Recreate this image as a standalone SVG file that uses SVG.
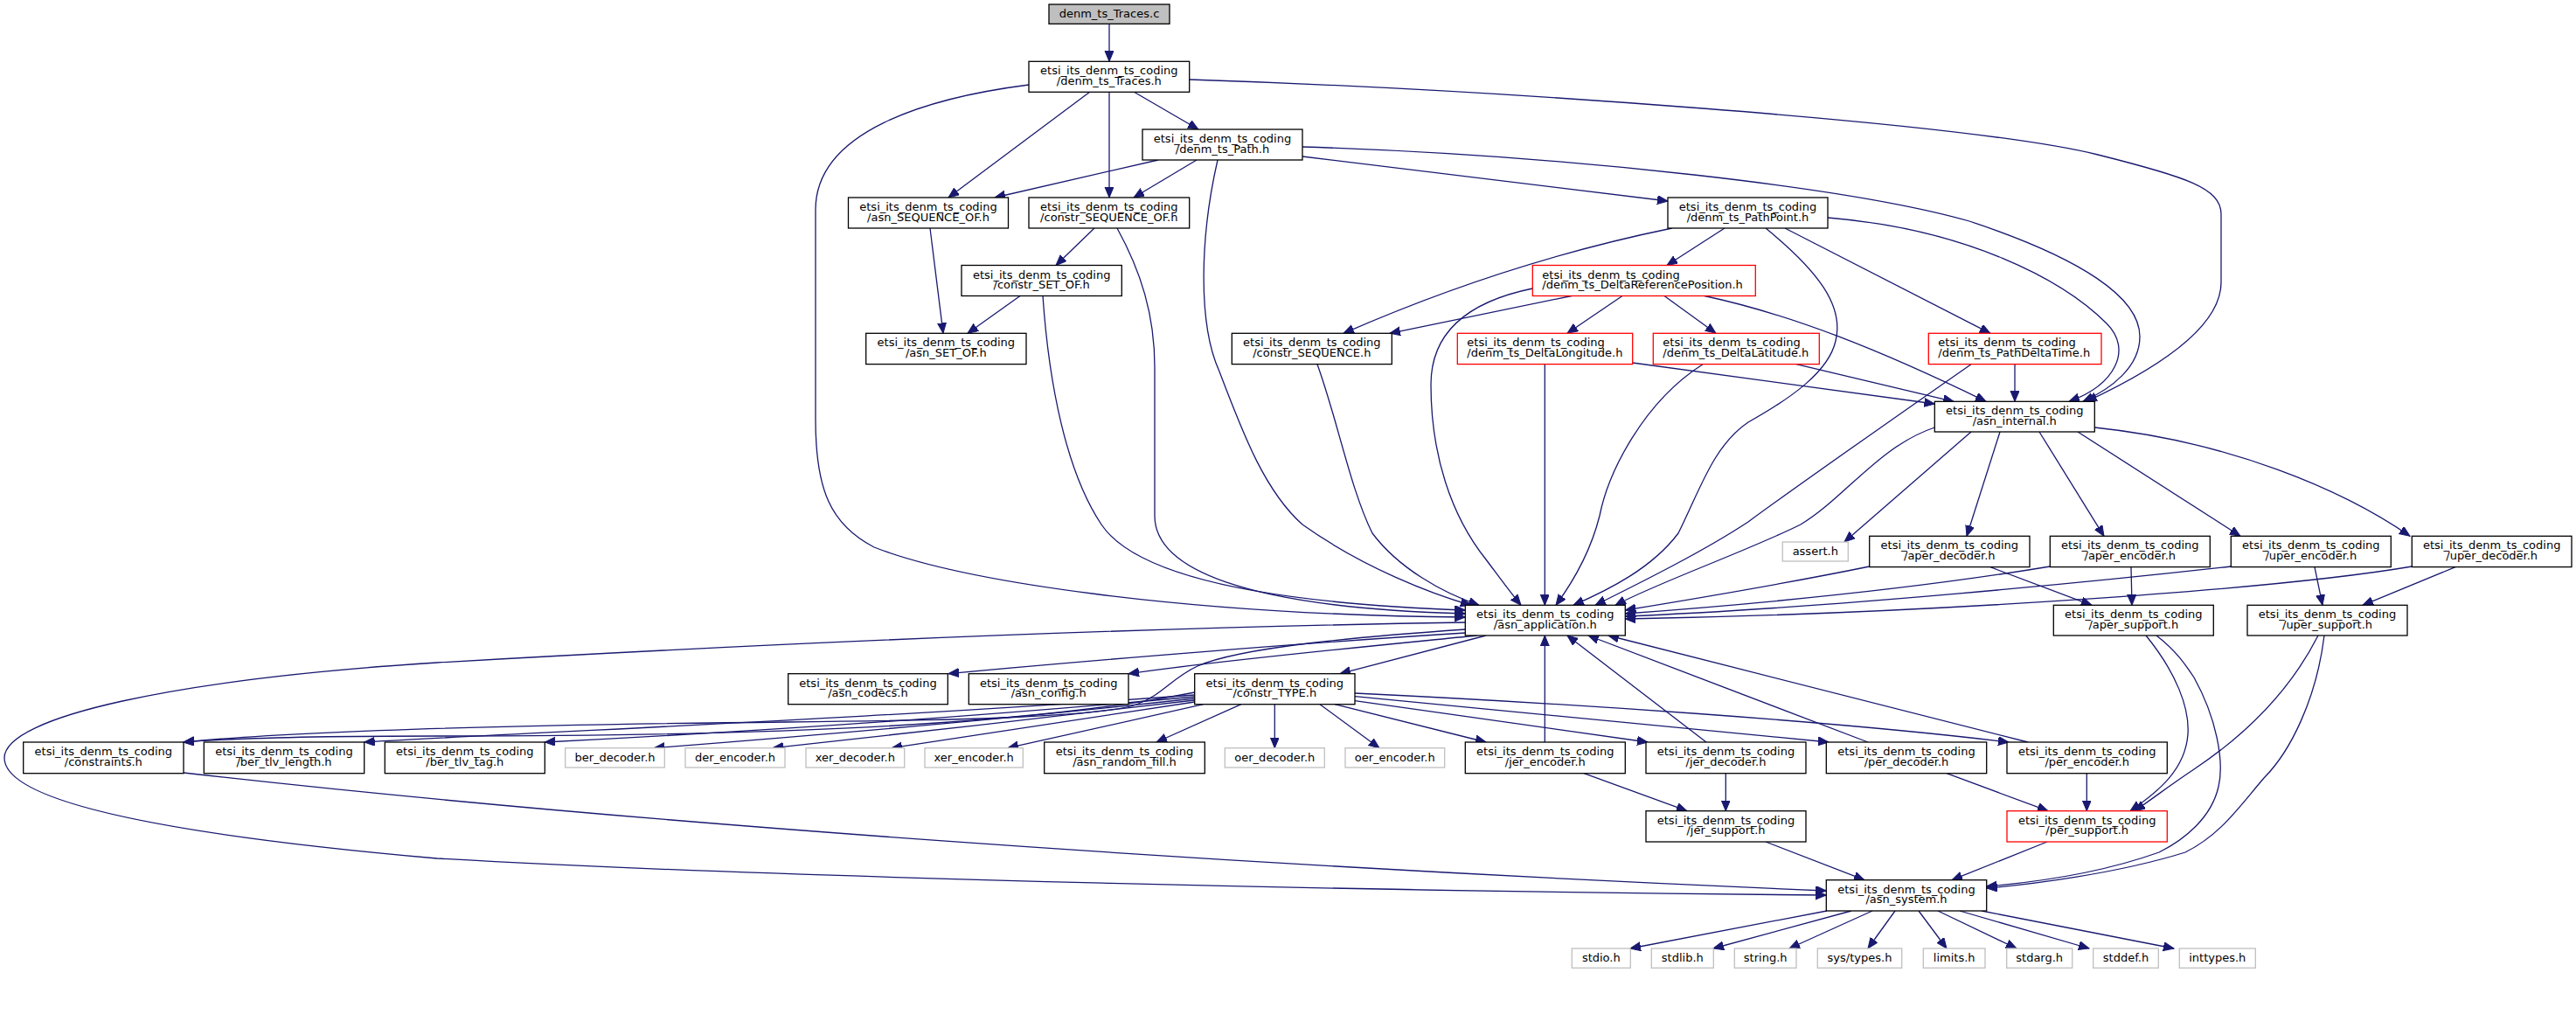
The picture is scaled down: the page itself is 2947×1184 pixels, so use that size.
<svg xmlns="http://www.w3.org/2000/svg" width="2947" height="1184" viewBox="0 0 2947 1184">
<defs>
<style>
.n rect{fill:#fff;stroke:#000;stroke-width:1.3}
.n.r rect{stroke:#ff0000}
.n.g rect{stroke:#bfbfbf}
.n.s rect{fill:#bfbfbf}
text{font-family:"DejaVu Sans","Liberation Sans",sans-serif;font-size:13px;fill:#000}
.c{text-anchor:middle}
.e path{fill:none;stroke:#191970;stroke-width:1.3;marker-end:url(#a)}
</style>
<marker id="a" markerWidth="13" markerHeight="12" refX="12" refY="5" orient="auto" markerUnits="userSpaceOnUse"><path d="M0,0 L12,5 L0,10 z" fill="#191970" stroke="#191970" stroke-width="1"/></marker>
</defs>
<rect width="2947" height="1184" fill="#fff"/>
<g id="edges" class="e">
<path d="M1269,27.3 L1269,70.3"/>
<path d="M1247,105 L1085,226"/>
<path d="M1269,105 L1269,226"/>
<path d="M1297,105 L1371,148"/>
<path d="M1177,97 C1060,112 933,150 933,240 L933,480 C933,560 950,600 1000,626 C1100,665 1350,703 1676.3,706"/>
<path d="M1360.7,91 C1700,102 2250,140 2400,177 C2500,202 2541,215 2541,245 L2541,323 C2541,380 2450,430 2387,459.3"/>
<path d="M1325,183 L1138,226"/>
<path d="M1369,183 L1297,226"/>
<path d="M1490,179 L1908,230"/>
<path d="M1490,168 C1800,178 2120,215 2253,253 C2380,295 2448,340 2448,385 C2448,420 2415,445 2383,459.3"/>
<path d="M1393,183 C1373,270 1370,370 1395,425 C1420,490 1445,560 1490,600 C1560,650 1640,680 1683,692.3"/>
<path d="M1252,261 L1208,303.5"/>
<path d="M1278,261 C1305,310 1321,360 1321,420 L1321,590 C1321,650 1420,695 1676.3,702"/>
<path d="M1167,338.5 L1107,381.3"/>
<path d="M1193,338.5 C1200,440 1220,540 1260,600 C1300,660 1450,690 1676.3,698"/>
<path d="M1064,261 L1079,381.3"/>
<path d="M1973,261 L1907,303.5"/>
<path d="M1913,261 C1830,278 1700,310 1537,381.3"/>
<path d="M2042,261 L2277,381.3"/>
<path d="M2091,249 C2250,262 2360,320 2410,370 C2440,400 2420,440 2367,459.3"/>
<path d="M2020,261 C2080,310 2110,350 2100,390 C2092,425 2050,455 2000,483 C1960,510 1945,560 1920,610 C1890,650 1840,675 1800,692.3"/>
<path d="M1798,338.5 L1590,381.3"/>
<path d="M1856,338.5 L1793,381.3"/>
<path d="M1904,338.5 L1963,381.3"/>
<path d="M1950,338.5 C2050,360 2150,400 2272,459.3"/>
<path d="M1753.3,330 C1680,345 1637,380 1637,440 C1637,520 1660,590 1700,640 C1715,660 1728,678 1740,692.3"/>
<path d="M1507,416.7 C1530,480 1545,560 1570,610 C1600,650 1650,678 1692,692.3"/>
<path d="M1767.3,416.7 L1767.3,692.3"/>
<path d="M1867.7,415 L2213.3,462"/>
<path d="M1948,416.7 C1880,460 1840,540 1830,590 C1820,630 1800,665 1780,692.3"/>
<path d="M2055,416.7 L2235,459.3"/>
<path d="M2255,416.7 C2150,490 2050,560 2000,597 C1950,630 1880,665 1825,692.3"/>
<path d="M2305,416.7 L2305,459.3"/>
<path d="M2213.3,489 C2150,510 2110,570 2060,600 C2000,630 1900,665 1848,692.3"/>
<path d="M2255,494 L2110,620"/>
<path d="M2288,494 L2250,613.3"/>
<path d="M2333,494 L2407,613.3"/>
<path d="M2377,494 L2563,613.3"/>
<path d="M2396.3,489 C2550,505 2680,560 2757,613.3"/>
<path d="M2138.7,648 C2080,660 2000,675 1859.3,698"/>
<path d="M2277,648.7 L2393,692.3"/>
<path d="M2345.3,648 C2200,672 2050,688 1859.3,702"/>
<path d="M2438,648.7 L2439,692.3"/>
<path d="M2552.3,648 C2400,665 2100,695 1859.3,705"/>
<path d="M2648,648.7 L2657,692.3"/>
<path d="M2759.3,648 C2600,675 2200,702 1859.3,708"/>
<path d="M2809,648.7 L2703,692.3"/>
<path d="M2455,727 C2490,770 2505,810 2503,840 C2500,880 2470,905 2437,927.7"/>
<path d="M2467,727 C2490,745 2500,760 2510,775 C2535,820 2545,870 2538,900 C2530,935 2500,960 2470,975 C2400,1000 2320,1010 2272.7,1014"/>
<path d="M2652,727 C2620,790 2570,840 2510,880 C2480,900 2465,912 2442,927.7"/>
<path d="M2659,727 C2650,800 2620,860 2590,890 C2560,925 2540,955 2500,975 C2420,1000 2320,1012 2272.7,1016"/>
<path d="M1676.3,724 C1500,735 1250,755 1085,770.7"/>
<path d="M1690,727 C1560,740 1400,755 1291,770.7"/>
<path d="M1700,727 L1533,770.7"/>
<path d="M1676.3,720 C1560,728 1420,740 1370,762 C1340,776 1330,795 1300,806 C1260,820 1100,824 900,826 C600,829 350,835 210,849"/>
<path d="M1676.3,712 C1300,718 900,735 500,758 C200,777 5,820 5,867 C5,925 250,960 500,982 C900,1005 1600,1020 2089.3,1024"/>
<path d="M1366.7,792 C1150,835 800,842 500,842 C350,842 260,845 210,849"/>
<path d="M1366.7,795 C1000,822 600,838 416.7,849"/>
<path d="M1366.7,797 C1050,826 800,840 623.3,849"/>
<path d="M1366.7,799 C1150,823 950,840 748,855.7"/>
<path d="M1366.7,801 C1200,820 1050,838 884,855.7"/>
<path d="M1366.7,803 L1020,855.7"/>
<path d="M1376.7,805.7 L1153,855.7"/>
<path d="M1420,805.7 L1323,849"/>
<path d="M1458.3,805.7 L1458.3,855.7"/>
<path d="M1510,805.7 L1578,855.7"/>
<path d="M1527,805.7 L1700,849"/>
<path d="M1550,801.7 L1885,849"/>
<path d="M1550,796.7 L2092,849"/>
<path d="M1550,793 C1800,805 2100,825 2298,849"/>
<path d="M1767.3,849 L1767.3,727"/>
<path d="M1812,884.7 L1930,927.7"/>
<path d="M1952,849 L1793,727"/>
<path d="M1974.3,884.7 L1974.3,927.7"/>
<path d="M2137,849 L1817,727"/>
<path d="M2227,884.7 L2343,927.7"/>
<path d="M2320,849 L1840,727"/>
<path d="M2387.3,884.7 L2387.3,927.7"/>
<path d="M2342,963 L2233,1006.7"/>
<path d="M2020,963 L2133,1006.7"/>
<path d="M210,884 C700,940 1400,990 2089.3,1019"/>
<path d="M2090,1042 L1865,1085"/>
<path d="M2118,1042 L1960,1085"/>
<path d="M2142,1042 L2047,1085"/>
<path d="M2168,1042 L2137,1085"/>
<path d="M2195,1042 L2227,1085"/>
<path d="M2217,1042 L2307,1085"/>
<path d="M2242,1042 L2390,1085"/>
<path d="M2267,1042 L2487,1085"/>
</g>
<g id="n_traces_c" class="n s"><rect x="1200" y="5" width="138" height="22.3"/><text class="c" x="1269" y="19.5">denm_ts_Traces.c</text></g>
<g id="n_traces_h" class="n"><rect x="1177" y="70.3" width="183.7" height="35"/><text class="c" x="1268.8" y="85.3">etsi_its_denm_ts_coding</text><text class="c" x="1268.8" y="97">/denm_ts_Traces.h</text></g>
<g id="n_path_h" class="n"><rect x="1307" y="148" width="183" height="35"/><text class="c" x="1398.5" y="163">etsi_its_denm_ts_coding</text><text class="c" x="1398.5" y="174.7">/denm_ts_Path.h</text></g>
<g id="n_asn_sequence_of" class="n"><rect x="970.5" y="226" width="183" height="35"/><text class="c" x="1062" y="241">etsi_its_denm_ts_coding</text><text class="c" x="1062" y="252.7">/asn_SEQUENCE_OF.h</text></g>
<g id="n_constr_sequence_of" class="n"><rect x="1177" y="226" width="183.7" height="35"/><text class="c" x="1268.8" y="241">etsi_its_denm_ts_coding</text><text class="c" x="1268.8" y="252.7">/constr_SEQUENCE_OF.h</text></g>
<g id="n_pathpoint" class="n"><rect x="1908" y="226" width="183" height="35"/><text class="c" x="1999.5" y="241">etsi_its_denm_ts_coding</text><text class="c" x="1999.5" y="252.7">/denm_ts_PathPoint.h</text></g>
<g id="n_constr_set_of" class="n"><rect x="1100" y="303.5" width="183.3" height="35"/><text class="c" x="1191.7" y="318.5">etsi_its_denm_ts_coding</text><text class="c" x="1191.7" y="330.2">/constr_SET_OF.h</text></g>
<g id="n_deltarefpos" class="n r"><rect x="1753.3" y="303.5" width="255" height="35"/><text x="1764.3" y="318.5">etsi_its_denm_ts_coding</text><text x="1764.3" y="330.2">/denm_ts_DeltaReferencePosition.h</text></g>
<g id="n_asn_set_of" class="n"><rect x="990.7" y="381.3" width="183.3" height="35.3"/><text class="c" x="1082.3" y="396.3">etsi_its_denm_ts_coding</text><text class="c" x="1082.3" y="408">/asn_SET_OF.h</text></g>
<g id="n_constr_sequence" class="n"><rect x="1409.3" y="381.3" width="183" height="35.3"/><text class="c" x="1500.8" y="396.3">etsi_its_denm_ts_coding</text><text class="c" x="1500.8" y="408">/constr_SEQUENCE.h</text></g>
<g id="n_deltalongitude" class="n r"><rect x="1667.3" y="381.3" width="200.4" height="35.3"/><text x="1678.3" y="396.3">etsi_its_denm_ts_coding</text><text x="1678.3" y="408">/denm_ts_DeltaLongitude.h</text></g>
<g id="n_deltalatitude" class="n r"><rect x="1891.3" y="381.3" width="190" height="35.3"/><text x="1902.3" y="396.3">etsi_its_denm_ts_coding</text><text x="1902.3" y="408">/denm_ts_DeltaLatitude.h</text></g>
<g id="n_pathdeltatime" class="n r"><rect x="2206.3" y="381.3" width="197.7" height="35.3"/><text x="2217.3" y="396.3">etsi_its_denm_ts_coding</text><text x="2217.3" y="408">/denm_ts_PathDeltaTime.h</text></g>
<g id="n_asn_internal" class="n"><rect x="2213.3" y="459.3" width="183" height="34.7"/><text class="c" x="2304.8" y="474.3">etsi_its_denm_ts_coding</text><text class="c" x="2304.8" y="486">/asn_internal.h</text></g>
<g id="n_assert" class="n g"><rect x="2039.3" y="620" width="75" height="22"/><text class="c" x="2076.8" y="635">assert.h</text></g>
<g id="n_aper_decoder" class="n"><rect x="2138.7" y="613.3" width="183.3" height="35.3"/><text class="c" x="2230.3" y="628.3">etsi_its_denm_ts_coding</text><text class="c" x="2230.3" y="640">/aper_decoder.h</text></g>
<g id="n_aper_encoder" class="n"><rect x="2345.3" y="613.3" width="183" height="35.3"/><text class="c" x="2436.8" y="628.3">etsi_its_denm_ts_coding</text><text class="c" x="2436.8" y="640">/aper_encoder.h</text></g>
<g id="n_uper_encoder" class="n"><rect x="2552.3" y="613.3" width="183" height="35.3"/><text class="c" x="2643.8" y="628.3">etsi_its_denm_ts_coding</text><text class="c" x="2643.8" y="640">/uper_encoder.h</text></g>
<g id="n_uper_decoder" class="n"><rect x="2759.3" y="613.3" width="182.7" height="35.3"/><text class="c" x="2850.7" y="628.3">etsi_its_denm_ts_coding</text><text class="c" x="2850.7" y="640">/uper_decoder.h</text></g>
<g id="n_asn_application" class="n"><rect x="1676.3" y="692.3" width="183" height="34.7"/><text class="c" x="1767.8" y="707.3">etsi_its_denm_ts_coding</text><text class="c" x="1767.8" y="719">/asn_application.h</text></g>
<g id="n_aper_support" class="n"><rect x="2349.3" y="692.3" width="183" height="34.7"/><text class="c" x="2440.8" y="707.3">etsi_its_denm_ts_coding</text><text class="c" x="2440.8" y="719">/aper_support.h</text></g>
<g id="n_uper_support" class="n"><rect x="2571" y="692.3" width="183" height="34.7"/><text class="c" x="2662.5" y="707.3">etsi_its_denm_ts_coding</text><text class="c" x="2662.5" y="719">/uper_support.h</text></g>
<g id="n_asn_codecs" class="n"><rect x="901.7" y="770.7" width="182.6" height="35"/><text class="c" x="993" y="785.7">etsi_its_denm_ts_coding</text><text class="c" x="993" y="797.4">/asn_codecs.h</text></g>
<g id="n_asn_config" class="n"><rect x="1108.3" y="770.7" width="182.7" height="35"/><text class="c" x="1199.7" y="785.7">etsi_its_denm_ts_coding</text><text class="c" x="1199.7" y="797.4">/asn_config.h</text></g>
<g id="n_constr_type" class="n"><rect x="1366.7" y="770.7" width="183.3" height="35"/><text class="c" x="1458.3" y="785.7">etsi_its_denm_ts_coding</text><text class="c" x="1458.3" y="797.4">/constr_TYPE.h</text></g>
<g id="n_constraints" class="n"><rect x="26.7" y="849" width="183.3" height="35.7"/><text class="c" x="118.3" y="864">etsi_its_denm_ts_coding</text><text class="c" x="118.3" y="875.7">/constraints.h</text></g>
<g id="n_ber_tlv_length" class="n"><rect x="233.3" y="849" width="183.4" height="35.7"/><text class="c" x="325" y="864">etsi_its_denm_ts_coding</text><text class="c" x="325" y="875.7">/ber_tlv_length.h</text></g>
<g id="n_ber_tlv_tag" class="n"><rect x="440.3" y="849" width="183" height="35.7"/><text class="c" x="531.8" y="864">etsi_its_denm_ts_coding</text><text class="c" x="531.8" y="875.7">/ber_tlv_tag.h</text></g>
<g id="n_ber_decoder" class="n g"><rect x="646.7" y="855.7" width="113.6" height="22.3"/><text class="c" x="703.5" y="870.7">ber_decoder.h</text></g>
<g id="n_der_encoder" class="n g"><rect x="784" y="855.7" width="114" height="22.3"/><text class="c" x="841" y="870.7">der_encoder.h</text></g>
<g id="n_xer_decoder" class="n g"><rect x="922" y="855.7" width="112.7" height="22.3"/><text class="c" x="978.3" y="870.7">xer_decoder.h</text></g>
<g id="n_xer_encoder" class="n g"><rect x="1058" y="855.7" width="112.3" height="22.3"/><text class="c" x="1114.2" y="870.7">xer_encoder.h</text></g>
<g id="n_asn_random_fill" class="n"><rect x="1194.7" y="849" width="183.6" height="35.7"/><text class="c" x="1286.5" y="864">etsi_its_denm_ts_coding</text><text class="c" x="1286.5" y="875.7">/asn_random_fill.h</text></g>
<g id="n_oer_decoder" class="n g"><rect x="1401.3" y="855.7" width="114" height="22.3"/><text class="c" x="1458.3" y="870.7">oer_decoder.h</text></g>
<g id="n_oer_encoder" class="n g"><rect x="1539" y="855.7" width="113.7" height="22.3"/><text class="c" x="1595.8" y="870.7">oer_encoder.h</text></g>
<g id="n_jer_encoder" class="n"><rect x="1676.3" y="849" width="183" height="35.7"/><text class="c" x="1767.8" y="864">etsi_its_denm_ts_coding</text><text class="c" x="1767.8" y="875.7">/jer_encoder.h</text></g>
<g id="n_jer_decoder" class="n"><rect x="1883" y="849" width="183" height="35.7"/><text class="c" x="1974.5" y="864">etsi_its_denm_ts_coding</text><text class="c" x="1974.5" y="875.7">/jer_decoder.h</text></g>
<g id="n_per_decoder" class="n"><rect x="2089.3" y="849" width="183.4" height="35.7"/><text class="c" x="2181" y="864">etsi_its_denm_ts_coding</text><text class="c" x="2181" y="875.7">/per_decoder.h</text></g>
<g id="n_per_encoder" class="n"><rect x="2296" y="849" width="183.3" height="35.7"/><text class="c" x="2387.7" y="864">etsi_its_denm_ts_coding</text><text class="c" x="2387.7" y="875.7">/per_encoder.h</text></g>
<g id="n_jer_support" class="n"><rect x="1883" y="927.7" width="183" height="35.3"/><text class="c" x="1974.5" y="942.7">etsi_its_denm_ts_coding</text><text class="c" x="1974.5" y="954.4">/jer_support.h</text></g>
<g id="n_per_support" class="n r"><rect x="2296" y="927.7" width="183.3" height="35.3"/><text class="c" x="2387.7" y="942.7">etsi_its_denm_ts_coding</text><text class="c" x="2387.7" y="954.4">/per_support.h</text></g>
<g id="n_asn_system" class="n"><rect x="2089.3" y="1006.7" width="183.4" height="35.3"/><text class="c" x="2181" y="1021.7">etsi_its_denm_ts_coding</text><text class="c" x="2181" y="1033.4">/asn_system.h</text></g>
<g id="n_stdio" class="n g"><rect x="1798.3" y="1085" width="67" height="22.3"/><text class="c" x="1831.8" y="1100">stdio.h</text></g>
<g id="n_stdlib" class="n g"><rect x="1889.3" y="1085" width="71" height="22.3"/><text class="c" x="1924.8" y="1100">stdlib.h</text></g>
<g id="n_string" class="n g"><rect x="1984.3" y="1085" width="70.7" height="22.3"/><text class="c" x="2019.7" y="1100">string.h</text></g>
<g id="n_sys_types" class="n g"><rect x="2079.3" y="1085" width="96.4" height="22.3"/><text class="c" x="2127.5" y="1100">sys/types.h</text></g>
<g id="n_limits" class="n g"><rect x="2200.3" y="1085" width="70.7" height="22.3"/><text class="c" x="2235.7" y="1100">limits.h</text></g>
<g id="n_stdarg" class="n g"><rect x="2295.7" y="1085" width="75" height="22.3"/><text class="c" x="2333.2" y="1100">stdarg.h</text></g>
<g id="n_stddef" class="n g"><rect x="2394.7" y="1085" width="74.6" height="22.3"/><text class="c" x="2432" y="1100">stddef.h</text></g>
<g id="n_inttypes" class="n g"><rect x="2493.3" y="1085" width="87" height="22.3"/><text class="c" x="2536.8" y="1100">inttypes.h</text></g>
</svg>
